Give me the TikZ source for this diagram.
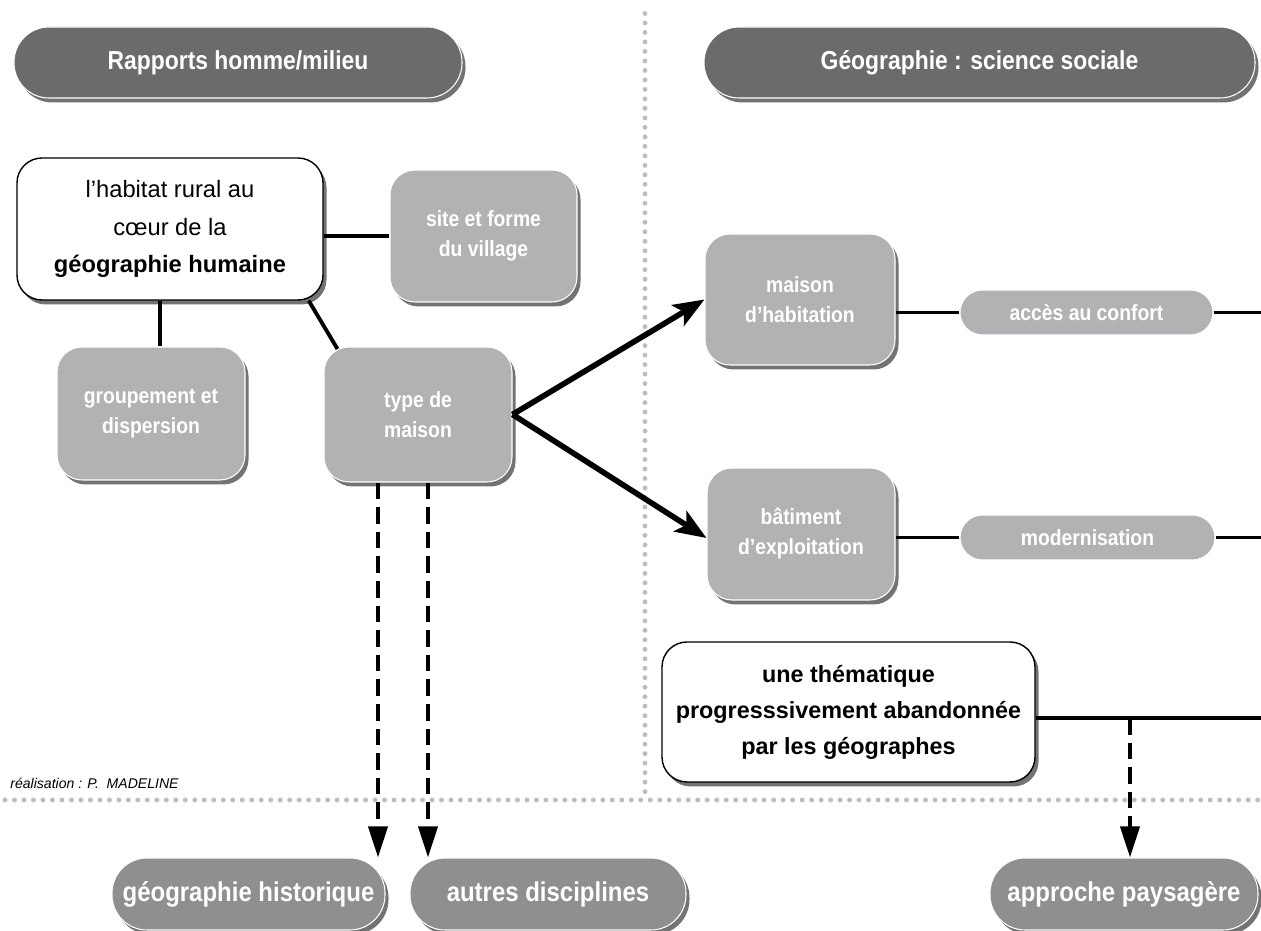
\documentclass[tikz,border=0pt]{standalone}
\usepackage{fontspec}
\setmainfont{Liberation Sans}
\newfontfamily\narrowsans{Liberation Sans}[FakeStretch=0.88]
\usetikzlibrary{shadows,arrows.meta,calc}

\definecolor{titlegray}{RGB}{107,107,109}
\definecolor{boxgray}{RGB}{177,178,180}
\definecolor{footgray}{RGB}{142,143,145}
\definecolor{dotgray}{RGB}{188,189,191}

\tikzset{
  softshadow/.style={drop shadow={shadow xshift=0.07cm,shadow yshift=-0.09cm,fill=black,opacity=0.55}},
  titlebox/.style={draw=white,line width=0.6pt,fill=titlegray,text=white,rounded corners=0.7cm,
    minimum height=1.42cm,font=\narrowsans\fontsize{14.8}{17}\selectfont\bfseries,softshadow},
  graybox/.style={draw=white,line width=0.6pt,fill=boxgray,text=white,rounded corners=0.5cm,
    align=center,font=\narrowsans\fontsize{12.5}{17}\selectfont\bfseries,softshadow},
  pillbox/.style={draw=white,line width=0.6pt,fill=boxgray,text=white,rounded corners=0.45cm,
    minimum height=0.9cm,font=\narrowsans\fontsize{12.5}{15}\selectfont\bfseries},
  whitebox/.style={draw=black,line width=0.8pt,fill=white,rounded corners=0.5cm,
    align=center,softshadow},
  footbox/.style={draw=white,line width=0.6pt,fill=footgray,text=white,rounded corners=0.7cm,
    minimum height=1.44cm,font=\narrowsans\fontsize{15.5}{18}\selectfont\bfseries,softshadow},
  link/.style={line width=2.2pt},
  bigarrow/.style={line width=3.2pt,-{Stealth[length=0.62cm,width=0.48cm,inset=0.14cm]}},
  dasharrow/.style={line width=2.2pt,dash pattern=on 9.5pt off 4.5pt,-{Triangle[length=0.62cm,width=0.38cm]}},
  dotline/.style={dotgray,line width=2.8pt,line cap=round,dash pattern=on 0pt off 5.4pt},
}

\begin{document}
\begin{tikzpicture}
\useasboundingbox (0,0) rectangle (25.22,18.62);

% separations
\draw[dotline] (12.9,18.35) -- (12.9,2.62);
\draw[dotline] (0.1,2.62) -- (25.22,2.62);

% titres
\node[titlebox,minimum width=8.96cm] (T1) at (4.76,17.37) {Rapports homme/milieu};
\node[titlebox,minimum width=11.02cm] (T2) at (19.59,17.37) {Géographie : science sociale};

% partie gauche
\node[whitebox,minimum width=6.12cm,minimum height=2.84cm,font=\fontsize{13.5}{21.3}\selectfont] (hab) at (3.40,14.04)
  {l’habitat rural au\\cœur de la\\\textbf{géographie humaine}};
\node[graybox,minimum width=3.74cm,minimum height=2.64cm] (site) at (9.67,13.90) {site et forme\\du village};
\node[graybox,minimum width=3.76cm,minimum height=2.66cm] (grp) at (3.02,10.35) {groupement et\\dispersion};
\node[graybox,minimum width=3.76cm,minimum height=2.7cm] (type) at (8.36,10.33) {type de\\maison};

% partie droite
\node[graybox,minimum width=3.8cm,minimum height=2.62cm] (mais) at (16.00,12.63) {maison\\d’habitation};
\node[graybox,minimum width=3.76cm,minimum height=2.64cm] (bat) at (16.02,7.94) {bâtiment\\d’exploitation};
\node[pillbox,minimum width=5.06cm] (conf) at (21.73,12.37) {accès au confort};
\node[pillbox,minimum width=5.1cm] (mod) at (21.75,7.87) {modernisation};
\node[whitebox,minimum width=7.46cm,minimum height=2.8cm,font=\fontsize{13.3}{20.5}\selectfont\bfseries] (them) at (16.97,4.38)
  {une thématique\\progresssivement abandonnée\\par les géographes};

% bas
\node[footbox,minimum width=5.46cm] (hist) at (4.97,0.74) {géographie historique};
\node[footbox,minimum width=5.52cm] (autr) at (10.96,0.74) {autres disciplines};
\node[footbox,minimum width=5.36cm] (pays) at (22.48,0.74) {approche paysagère};

\node[anchor=west,inner sep=0pt,font=\fontsize{8}{9}\selectfont\itshape] (real) at (0.2,2.96) {réalisation : P.~~MADELINE};

% liens
\coordinate (bord1) at (25.22,12.37);
\coordinate (bord2) at (25.22,7.87);
\coordinate (bord3) at (25.22,4.26);
\coordinate (fourche) at (22.6,4.26);
\coordinate (dep1) at ($(type.south)+(-0.8,0)$);
\coordinate (dep2) at ($(type.south)+(0.2,0)$);

\draw[link] (site.west -| hab.east) -- (site.west);
\draw[link] ([xshift=0.18cm]grp.north |- hab.south) -- ([xshift=0.18cm]grp.north);
\draw[link] ([xshift=-0.3cm]hab.south east) -- ([xshift=0.28cm,yshift=-0.05cm]type.north west);
\draw[bigarrow] (type.east) -- (mais.west);
\draw[bigarrow] (type.east) -- ([yshift=-0.08cm]bat.west);
\draw[link] (mais.east |- conf.west) -- (conf.west);
\draw[link] (conf.east) -- (bord1);
\draw[link] (bat.east |- mod.west) -- (mod.west);
\draw[link] (mod.east) -- (bord2);
\draw[link] (them.east |- bord3) -- (bord3);
\draw[dasharrow] (fourche) -- (fourche |- pays.north);
\draw[dasharrow] (dep1) -- (dep1 |- hist.north);
\draw[dasharrow] (dep2) -- (dep2 |- autr.north);

\end{tikzpicture}
\end{document}
